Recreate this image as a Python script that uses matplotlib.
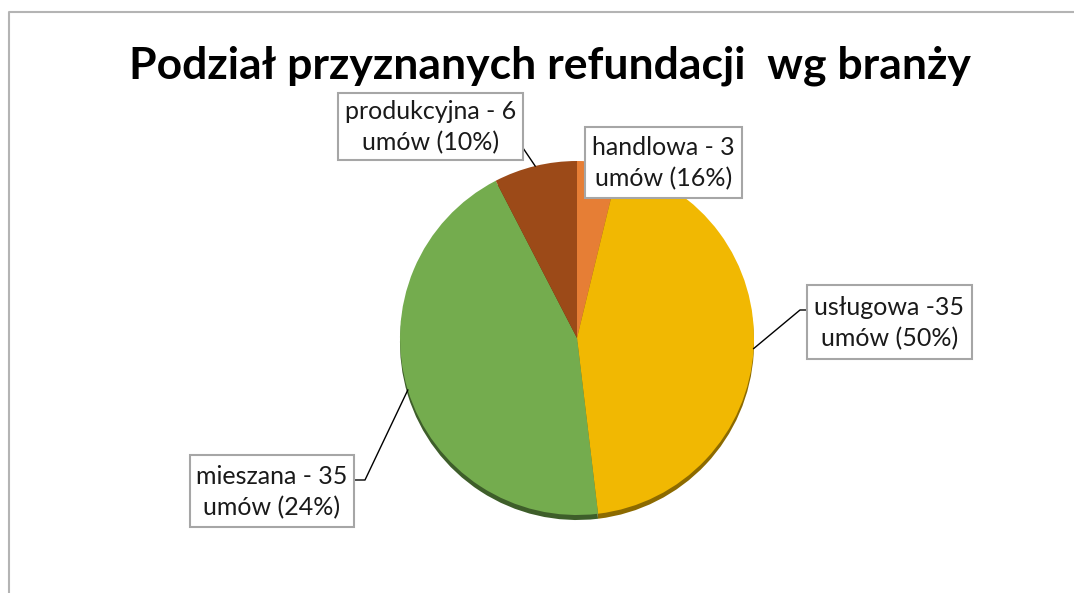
import numpy as np
import matplotlib.pyplot as plt
from matplotlib.patches import Rectangle

plt.rcParams['font.family'] = ['Lato', 'DejaVu Sans']

# dane z wykresu
branze = ['handlowa', 'usługowa', 'mieszana', 'produkcyjna']
umowy = [3, 35, 35, 6]
etykiety = ['handlowa - 3\numów (16%)', 'usługowa -35\numów (50%)',
            'mieszana - 35\numów (24%)', 'produkcyjna - 6\numów (10%)']
kolory = ['#E67E35', '#F1B802', '#74AC4E', '#9C4A18']
cienie = ['#8a4a1c', '#8c6a00', '#3e5e2a', '#5a2a0c']

W, H = 1074, 593
fig = plt.figure(figsize=(W / 100, H / 100), dpi=100)
ax = fig.add_axes([0, 0, 1, 1])

cx, cy, r = 577, H - 338, 177

# cien pod kolem (efekt 3D)
ax.pie(umowy, colors=cienie, startangle=90, counterclock=False, radius=r,
       center=(cx, cy - 5), frame=True, wedgeprops=dict(linewidth=0))
wedges, _ = ax.pie(umowy, colors=kolory, startangle=90, counterclock=False, radius=r,
                   center=(cx, cy), frame=True, wedgeprops=dict(linewidth=0))

ax.set_xlim(0, W)
ax.set_ylim(0, H)
ax.axis('off')

# ramki etykiet (x0, y0, x1, y1 w pikselach od gory)
boxes = [(585, 127, 742, 198), (807, 285, 972, 359), (190, 455, 354, 527), (338, 93, 523, 160)]
# punkty lamania linii odniesienia
elbows = [None, [(800, 310), (807, 310)], [(365, 480), (354, 480)], [(523, 148)]]

for w, lab, b, e in zip(wedges, etykiety, boxes, elbows):
    x0, y0, x1, y1 = b
    if e is not None:
        ang = np.deg2rad((w.theta1 + w.theta2) / 2)
        px = [cx + r * np.cos(ang)] + [p[0] for p in e]
        py = [cy + r * np.sin(ang)] + [H - p[1] for p in e]
        ax.plot(px, py, color='black', lw=1, zorder=3)
    ax.add_patch(Rectangle((x0, H - y1), x1 - x0, y1 - y0, facecolor='white',
                           edgecolor='#A6A6A6', lw=1.5, zorder=4))
    ax.text((x0 + x1) / 2, H - (y0 + y1) / 2 - 1, lab, ha='center', va='center',
            fontsize=18, linespacing=1.4, color='#1a1a1a', zorder=5)

ax.text(550, H - 78, 'Podział przyznanych refundacji  wg branży', ha='center', va='baseline',
        fontsize=32, fontweight='bold', color='black')

# ramka obszaru wykresu
ax.plot([9, 9, W], [0, H - 12, H - 12], color='#B4B4B4', lw=1.5, clip_on=False)

plt.savefig('out.png', dpi=100)
